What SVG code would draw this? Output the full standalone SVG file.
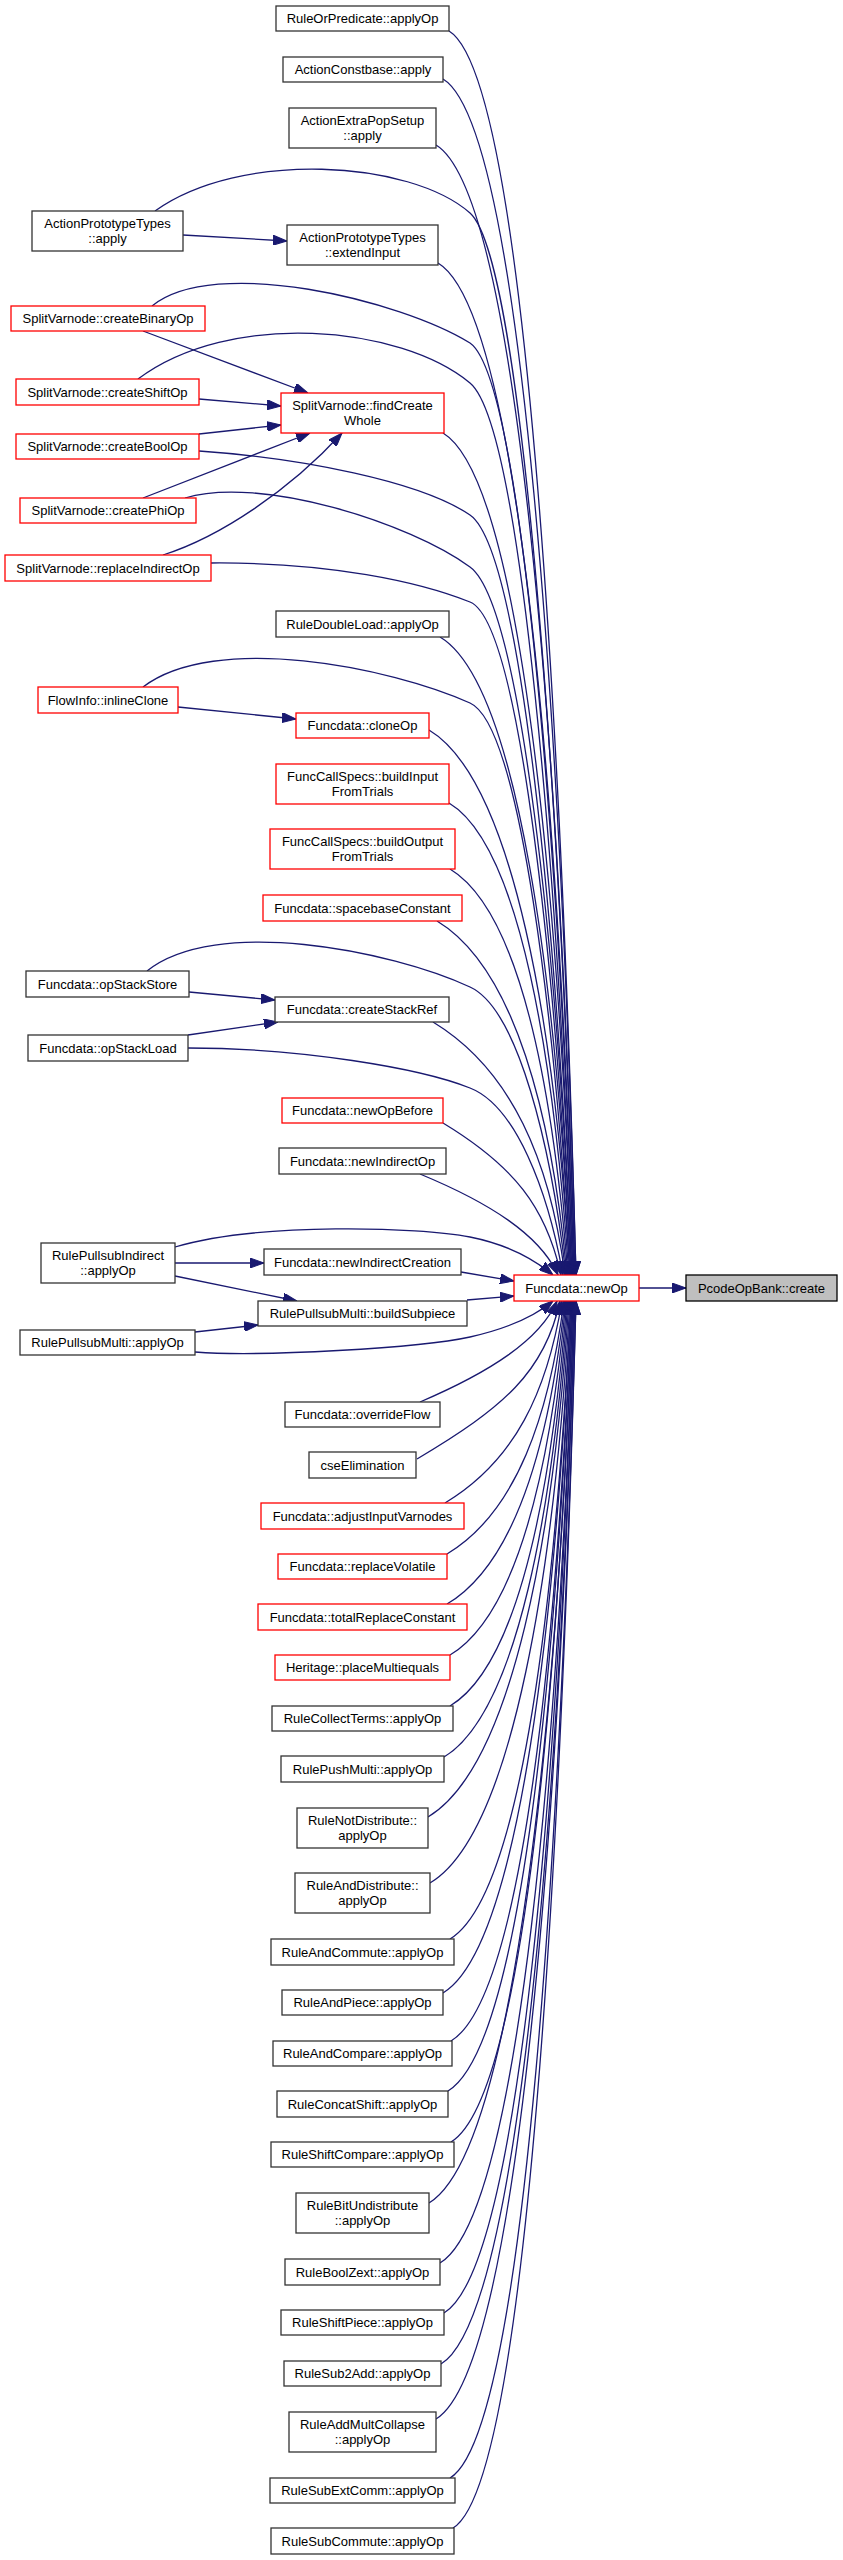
<svg xmlns="http://www.w3.org/2000/svg" width="843" height="2560" viewBox="0 0 843 2560">
<style>
.e{fill:none;stroke:#191970;stroke-width:1.3;marker-end:url(#ah)}
.n rect{fill:#fff;stroke:#333;stroke-width:1.3}
.r rect{fill:#fff;stroke:#ff0000;stroke-width:1.3}
.g rect{fill:#bfbfbf;stroke:#000;stroke-width:1.3}
text{font-family:"Liberation Sans",Arial,sans-serif;font-size:13px;fill:#000;text-anchor:middle}
</style>
<defs>
<marker id="ah" viewBox="0 0 14 10" refX="14" refY="5" markerWidth="14" markerHeight="10" markerUnits="userSpaceOnUse" orient="auto">
<path d="M0,0 L14,5 L0,10 z" fill="#191970" stroke="#191970" stroke-width="1"/>
</marker>
</defs>
<rect width="843" height="2560" fill="#fff"/>
<g id="connectors">
<path class="e" d="M449,31 C525,77 561,715 576,1275"/>
<path class="e" d="M443,79 C523,127 561,737 576,1275"/>
<path class="e" d="M436,145 C519,195 560,767 575,1275"/>
<path class="e" d="M155,211 C240,150 410,160 470,213 C522,259 560,797 575,1275"/>
<path class="e" d="M438,263 C520,312 559,820 574,1275"/>
<path class="e" d="M152,306 C215,255 400,300 470,343 C522,379 559,856 574,1275"/>
<path class="e" d="M138,379 C230,310 400,325 470,383 C521,425 558,874 573,1275"/>
<path class="e" d="M443,433 C521,480 558,896 573,1275"/>
<path class="e" d="M199,451 C300,458 420,481 470,515 C521,550 557,933 572,1275"/>
<path class="e" d="M185,498 C260,475 410,523 470,567 C521,604 557,956 572,1275"/>
<path class="e" d="M211,563 C330,562 420,582 470,602 C520,622 556,972 571,1275"/>
<path class="e" d="M440,637 C519,684 556,988 571,1275"/>
<path class="e" d="M143,687 C215,632 390,667 470,703 C520,725 555,1018 570,1275"/>
<path class="e" d="M429,730 C514,781 555,1030 570,1275"/>
<path class="e" d="M449,803 C521,846 554,1063 569,1275"/>
<path class="e" d="M450,869 C521,912 553,1092 568,1275"/>
<path class="e" d="M437,921 C515,968 552,1116 567,1275"/>
<path class="e" d="M147,971 C215,916 390,950 470,987 C518,1009 551,1145 566,1275"/>
<path class="e" d="M433,1022 C512,1070 550,1161 565,1275"/>
<path class="e" d="M188,1048 C300,1048 420,1068 470,1088 C516,1106 548,1191 563,1275"/>
<path class="e" d="M443,1123 C514,1166 546,1207 561,1275"/>
<path class="e" d="M420,1174 C490,1203 540,1235 558,1275"/>
<path class="e" d="M175,1247 C260,1222 420,1227 470,1237 C510,1245 535,1260 553,1275"/>
<path class="e" d="M461,1272 L514,1281"/>
<path class="e" d="M467,1300 L514,1296"/>
<path class="e" d="M195,1352 C260,1357 420,1348 470,1337 C510,1328 535,1316 553,1301"/>
<path class="e" d="M420,1402 C490,1372 540,1340 557,1301"/>
<path class="e" d="M417,1459 C503,1408 545,1372 560,1301"/>
<path class="e" d="M445,1503 C515,1461 547,1392 562,1301"/>
<path class="e" d="M447,1554 C517,1512 549,1415 564,1301"/>
<path class="e" d="M447,1604 C518,1562 550,1437 565,1301"/>
<path class="e" d="M450,1655 C520,1613 551,1460 566,1301"/>
<path class="e" d="M450,1706 C520,1664 552,1483 567,1301"/>
<path class="e" d="M444,1757 C518,1712 553,1506 568,1301"/>
<path class="e" d="M428,1817 C513,1766 554,1533 569,1301"/>
<path class="e" d="M430,1883 C514,1833 555,1563 570,1301"/>
<path class="e" d="M450,1939 C523,1895 556,1588 571,1301"/>
<path class="e" d="M443,1993 C520,1947 556,1612 571,1301"/>
<path class="e" d="M451,2041 C524,1997 557,1634 572,1301"/>
<path class="e" d="M448,2091 C522,2046 557,1657 572,1301"/>
<path class="e" d="M451,2142 C524,2098 558,1679 573,1301"/>
<path class="e" d="M429,2203 C515,2151 558,1707 573,1301"/>
<path class="e" d="M440,2263 C520,2215 559,1734 574,1301"/>
<path class="e" d="M444,2313 C522,2266 559,1756 574,1301"/>
<path class="e" d="M441,2364 C521,2316 560,1779 575,1301"/>
<path class="e" d="M436,2419 C519,2369 560,1804 575,1301"/>
<path class="e" d="M450,2478 C526,2433 561,1831 576,1301"/>
<path class="e" d="M453,2528 C527,2484 561,1853 576,1301"/>
<path class="e" d="M639,1288 L686,1288"/>
<path class="e" d="M183,235 L287,241"/>
<path class="e" d="M143,331 L308,393"/>
<path class="e" d="M199,399 L281,406"/>
<path class="e" d="M199,434 L281,425"/>
<path class="e" d="M143,498 L310,433"/>
<path class="e" d="M163,555 C220,537 290,490 342,433"/>
<path class="e" d="M178,707 L296,719"/>
<path class="e" d="M189,992 L275,1000"/>
<path class="e" d="M188,1035 L278,1022"/>
<path class="e" d="M175,1263 L264,1263"/>
<path class="e" d="M175,1276 L297,1301"/>
<path class="e" d="M195,1332 L258,1325"/>
</g>
<g id="n_create" class="g"><rect x="686" y="1275" width="151" height="26"/><text x="761.5" y="1292.5">PcodeOpBank::create</text></g>
<g id="n_newOp" class="r"><rect x="514" y="1275" width="125" height="26"/><text x="576.5" y="1292.5">Funcdata::newOp</text></g>
<g id="n_ruleOrPredicate" class="n"><rect x="276" y="6" width="173" height="25"/><text x="362.5" y="23">RuleOrPredicate::applyOp</text></g>
<g id="n_actionConstbase" class="n"><rect x="283" y="57" width="160" height="25"/><text x="363" y="74">ActionConstbase::apply</text></g>
<g id="n_actionExtraPopSetup" class="n"><rect x="289" y="108" width="147" height="40"/><text x="362.5" y="124.5">ActionExtraPopSetup</text><text x="362.5" y="140">::apply</text></g>
<g id="n_actionProtoApply" class="n"><rect x="32" y="211" width="151" height="40"/><text x="107.5" y="227.5">ActionPrototypeTypes</text><text x="107.5" y="243">::apply</text></g>
<g id="n_actionProtoExtend" class="n"><rect x="287" y="225" width="151" height="40"/><text x="362.5" y="241.5">ActionPrototypeTypes</text><text x="362.5" y="257">::extendInput</text></g>
<g id="n_createBinaryOp" class="r"><rect x="11" y="306" width="194" height="25"/><text x="108" y="323">SplitVarnode::createBinaryOp</text></g>
<g id="n_createShiftOp" class="r"><rect x="16" y="379" width="183" height="26"/><text x="107.5" y="396.5">SplitVarnode::createShiftOp</text></g>
<g id="n_findCreateWhole" class="r"><rect x="281" y="393" width="163" height="40"/><text x="362.5" y="409.5">SplitVarnode::findCreate</text><text x="362.5" y="425">Whole</text></g>
<g id="n_createBoolOp" class="r"><rect x="16" y="434" width="183" height="25"/><text x="107.5" y="451">SplitVarnode::createBoolOp</text></g>
<g id="n_createPhiOp" class="r"><rect x="20" y="498" width="176" height="25"/><text x="108" y="515">SplitVarnode::createPhiOp</text></g>
<g id="n_replaceIndirectOp" class="r"><rect x="5" y="555" width="206" height="26"/><text x="108" y="572.5">SplitVarnode::replaceIndirectOp</text></g>
<g id="n_ruleDoubleLoad" class="n"><rect x="276" y="611" width="173" height="26"/><text x="362.5" y="628.5">RuleDoubleLoad::applyOp</text></g>
<g id="n_inlineClone" class="r"><rect x="38" y="687" width="140" height="26"/><text x="108" y="704.5">FlowInfo::inlineClone</text></g>
<g id="n_cloneOp" class="r"><rect x="296" y="713" width="133" height="25"/><text x="362.5" y="730">Funcdata::cloneOp</text></g>
<g id="n_buildInput" class="r"><rect x="276" y="764" width="173" height="40"/><text x="362.5" y="780.5">FuncCallSpecs::buildInput</text><text x="362.5" y="796">FromTrials</text></g>
<g id="n_buildOutput" class="r"><rect x="270" y="829" width="185" height="40"/><text x="362.5" y="845.5">FuncCallSpecs::buildOutput</text><text x="362.5" y="861">FromTrials</text></g>
<g id="n_spacebaseConstant" class="r"><rect x="263" y="895" width="199" height="26"/><text x="362.5" y="912.5">Funcdata::spacebaseConstant</text></g>
<g id="n_opStackStore" class="n"><rect x="26" y="971" width="163" height="26"/><text x="107.5" y="988.5">Funcdata::opStackStore</text></g>
<g id="n_createStackRef" class="n"><rect x="275" y="997" width="174" height="25"/><text x="362" y="1014">Funcdata::createStackRef</text></g>
<g id="n_opStackLoad" class="n"><rect x="28" y="1035" width="160" height="26"/><text x="108" y="1052.5">Funcdata::opStackLoad</text></g>
<g id="n_newOpBefore" class="r"><rect x="282" y="1098" width="161" height="25"/><text x="362.5" y="1115">Funcdata::newOpBefore</text></g>
<g id="n_newIndirectOp" class="n"><rect x="279" y="1148" width="167" height="26"/><text x="362.5" y="1165.5">Funcdata::newIndirectOp</text></g>
<g id="n_pullsubIndirect" class="n"><rect x="41" y="1243" width="134" height="40"/><text x="108" y="1259.5">RulePullsubIndirect</text><text x="108" y="1275">::applyOp</text></g>
<g id="n_newIndirectCreation" class="n"><rect x="264" y="1249" width="197" height="26"/><text x="362.5" y="1266.5">Funcdata::newIndirectCreation</text></g>
<g id="n_buildSubpiece" class="n"><rect x="258" y="1301" width="209" height="25"/><text x="362.5" y="1318">RulePullsubMulti::buildSubpiece</text></g>
<g id="n_pullsubMulti" class="n"><rect x="20" y="1330" width="175" height="25"/><text x="107.5" y="1347">RulePullsubMulti::applyOp</text></g>
<g id="n_overrideFlow" class="n"><rect x="285" y="1402" width="155" height="25"/><text x="362.5" y="1419">Funcdata::overrideFlow</text></g>
<g id="n_cseElimination" class="n"><rect x="309" y="1452" width="107" height="26"/><text x="362.5" y="1469.5">cseElimination</text></g>
<g id="n_adjustInputVarnodes" class="r"><rect x="261" y="1503" width="203" height="26"/><text x="362.5" y="1520.5">Funcdata::adjustInputVarnodes</text></g>
<g id="n_replaceVolatile" class="r"><rect x="278" y="1554" width="169" height="25"/><text x="362.5" y="1571">Funcdata::replaceVolatile</text></g>
<g id="n_totalReplaceConstant" class="r"><rect x="258" y="1604" width="209" height="26"/><text x="362.5" y="1621.5">Funcdata::totalReplaceConstant</text></g>
<g id="n_placeMultiequals" class="r"><rect x="275" y="1655" width="175" height="25"/><text x="362.5" y="1672">Heritage::placeMultiequals</text></g>
<g id="n_collectTerms" class="n"><rect x="272" y="1706" width="181" height="25"/><text x="362.5" y="1723">RuleCollectTerms::applyOp</text></g>
<g id="n_pushMulti" class="n"><rect x="281" y="1756" width="163" height="26"/><text x="362.5" y="1773.5">RulePushMulti::applyOp</text></g>
<g id="n_notDistribute" class="n"><rect x="297" y="1808" width="131" height="40"/><text x="362.5" y="1824.5">RuleNotDistribute::</text><text x="362.5" y="1840">applyOp</text></g>
<g id="n_andDistribute" class="n"><rect x="295" y="1873" width="135" height="40"/><text x="362.5" y="1889.5">RuleAndDistribute::</text><text x="362.5" y="1905">applyOp</text></g>
<g id="n_andCommute" class="n"><rect x="271" y="1939" width="183" height="26"/><text x="362.5" y="1956.5">RuleAndCommute::applyOp</text></g>
<g id="n_andPiece" class="n"><rect x="282" y="1990" width="161" height="25"/><text x="362.5" y="2007">RuleAndPiece::applyOp</text></g>
<g id="n_andCompare" class="n"><rect x="273" y="2041" width="179" height="25"/><text x="362.5" y="2058">RuleAndCompare::applyOp</text></g>
<g id="n_concatShift" class="n"><rect x="277" y="2091" width="171" height="26"/><text x="362.5" y="2108.5">RuleConcatShift::applyOp</text></g>
<g id="n_shiftCompare" class="n"><rect x="271" y="2142" width="183" height="25"/><text x="362.5" y="2159">RuleShiftCompare::applyOp</text></g>
<g id="n_bitUndistribute" class="n"><rect x="296" y="2193" width="133" height="40"/><text x="362.5" y="2209.5">RuleBitUndistribute</text><text x="362.5" y="2225">::applyOp</text></g>
<g id="n_boolZext" class="n"><rect x="285" y="2259" width="155" height="26"/><text x="362.5" y="2276.5">RuleBoolZext::applyOp</text></g>
<g id="n_shiftPiece" class="n"><rect x="281" y="2310" width="163" height="25"/><text x="362.5" y="2327">RuleShiftPiece::applyOp</text></g>
<g id="n_sub2Add" class="n"><rect x="284" y="2361" width="157" height="25"/><text x="362.5" y="2378">RuleSub2Add::applyOp</text></g>
<g id="n_addMultCollapse" class="n"><rect x="289" y="2412" width="147" height="40"/><text x="362.5" y="2428.5">RuleAddMultCollapse</text><text x="362.5" y="2444">::applyOp</text></g>
<g id="n_subExtComm" class="n"><rect x="270" y="2478" width="185" height="25"/><text x="362.5" y="2495">RuleSubExtComm::applyOp</text></g>
<g id="n_subCommute" class="n"><rect x="271" y="2528" width="183" height="26"/><text x="362.5" y="2545.5">RuleSubCommute::applyOp</text></g>
</svg>
